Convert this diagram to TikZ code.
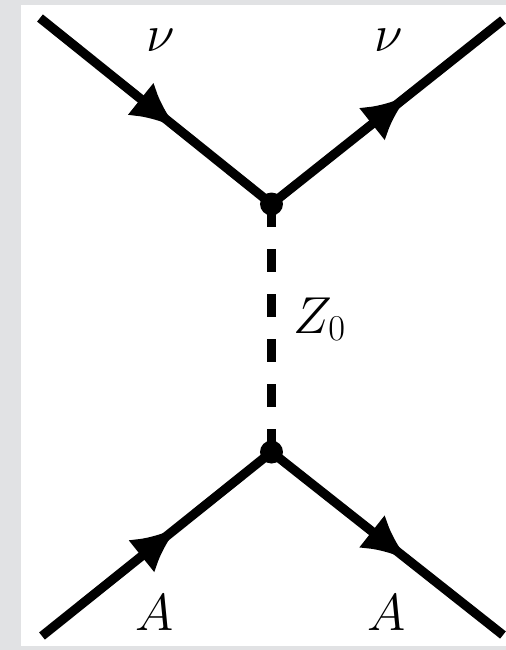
\RequirePackage{fix-cm}
\documentclass[tikz,border=0pt]{standalone}
\usetikzlibrary{arrows.meta,decorations.markings}
\definecolor{Frame}{HTML}{E1E2E4}
\tikzset{
 fermion/.style={line width=4.6pt, postaction={decorate}, decoration={markings, mark=at position 0.59 with {\arrow{Latex[length=23pt,width=21pt]}}}},
 boson/.style={line width=4.4pt, dash pattern=on 11.5pt off 11pt},
 vertexdot/.style={circle, fill=black, inner sep=0pt, minimum size=11.5pt},
 partlabel/.style={inner sep=0pt, font=\fontsize{26}{31}\selectfont}
}
\begin{document}
\begin{tikzpicture}[x=0.5pt,y=-0.5pt]
\useasboundingbox (0,0) rectangle (506,650);
\fill[Frame] (0,0) rectangle (506,650);
\fill[white] (21,5) rectangle (506,646);
% vertices and external legs
\node[vertexdot] (vtop) at (271.5,204) {};
\node[vertexdot] (vbot) at (271.5,452) {};
\coordinate (nuin) at (40,18);
\coordinate (nuout) at (503,20);
\coordinate (ain) at (42,636);
\coordinate (aout) at (503,635);
\draw[fermion] (nuin) -- (vtop.center);
\draw[fermion] (vtop.center) -- (nuout);
\draw[fermion] (ain) -- (vbot.center);
\draw[fermion] (vbot.center) -- (aout);
\draw[boson] (vtop.center) -- (vbot.center);
% labels
\node[partlabel] (nuleft) at (160.5,40.5) {$\nu$};
\node[partlabel] (nuright) at (389,40.5) {$\nu$};
\node[partlabel] (aleft) at (155,612.5) {$A$};
\node[partlabel] (aright) at (387,612.5) {$A$};
\node[partlabel, anchor=base west] (zlabel) at (293,333) {$Z_0$};
\end{tikzpicture}
\end{document}
